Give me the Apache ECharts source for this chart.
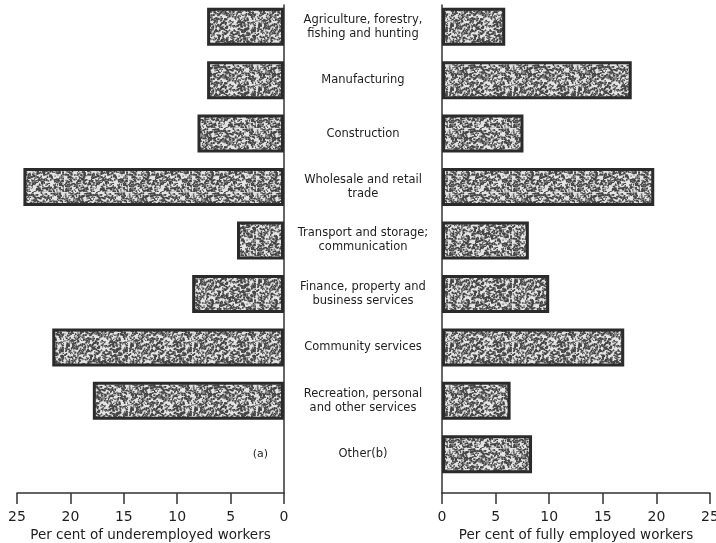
<!DOCTYPE html>
<html>
<head>
<meta charset="utf-8">
<script src="https://cdn.jsdelivr.net/npm/echarts@6/dist/echarts.min.js"></script>
<style>
  html, body { margin: 0; padding: 0; background: #fff; }
  #chart { width: 716px; height: 543px; }
</style>
</head>
<body>
<div id="chart"></div>
<script>
// industry categories, top to bottom
const categories = [
  'Agriculture, forestry,\nfishing and hunting',
  'Manufacturing',
  'Construction',
  'Wholesale and retail\ntrade',
  'Transport and storage;\ncommunication',
  'Finance, property and\nbusiness services',
  'Community services',
  'Recreation, personal\nand other services',
  'Other(b)'
];
// per cent of underemployed workers (left panel); Other has footnote (a) instead of a bar
const underemployed = [7.2, 7.2, 8.1, 24.4, 4.4, 8.6, 21.7, 17.9, 0];
// per cent of fully employed workers (right panel)
const fullyEmployed = [5.9, 17.7, 7.6, 19.8, 8.1, 10.0, 17.0, 6.4, 8.4];
const axisMax = 25;
const axisStep = 5;

// stippled fill like the printed screen
function makeStipple() {
  const size = 64;
  const c = document.createElement('canvas');
  c.width = size; c.height = size;
  const ctx = c.getContext('2d');
  ctx.fillStyle = '#e4e4e4';
  ctx.fillRect(0, 0, size, size);
  let s = 12345;
  const next = () => { s = (s * 16807) % 2147483647; return s / 2147483647; };
  ctx.fillStyle = '#444';
  for (let i = 0; i < 1500; i++) {
    const x = next() * size, y = next() * size;
    const w = 0.8 + next() * 1.4;
    ctx.fillRect(x, y, w, 0.8 + next() * 1.2);
  }
  return c;
}
const stipple = makeStipple();

const font = 'DejaVu Sans';
const textColor = '#1e1e1e';
const lineColor = '#333';

const barStyle = {
  color: { image: stipple, repeat: 'repeat' },
  borderColor: '#2b2b2b',
  borderWidth: 3
};

const leftData = underemployed.map((v, i) => {
  if (i === categories.length - 1) {
    return {
      value: v,
      itemStyle: { borderWidth: 0 },
      label: { show: true, formatter: '(a)', position: 'left', distance: 16,
        color: textColor, fontFamily: font, fontSize: 11 }
    };
  }
  return v;
});

const chart = echarts.init(document.getElementById('chart'));
chart.setOption({
  animation: false,
  grid: [
    // bar grids
    { left: 17, width: 267, top: 0, height: 481, outerBoundsMode: 'none' },
    { left: 442, width: 268, top: 0, height: 481, outerBoundsMode: 'none' },
    // axis grids
    { left: 17, width: 267, top: 5, height: 488, outerBoundsMode: 'none' },
    { left: 442, width: 268, top: 5, height: 488, outerBoundsMode: 'none' }
  ],
  xAxis: [
    { gridIndex: 0, type: 'value', min: 0, max: axisMax, inverse: true, show: false },
    { gridIndex: 1, type: 'value', min: 0, max: axisMax, show: false },
    {
      gridIndex: 2, type: 'value', min: 0, max: axisMax, interval: axisStep, inverse: true,
      splitLine: { show: false },
      axisLine: { show: true, lineStyle: { color: lineColor, width: 1.5 } },
      axisTick: { show: true, length: 11, lineStyle: { color: lineColor, width: 1.5 } },
      axisLabel: { margin: 17, color: textColor, fontFamily: font, fontSize: 14 },
      name: 'Per cent of underemployed workers',
      nameLocation: 'middle', nameGap: 34,
      nameTextStyle: { color: textColor, fontFamily: font, fontSize: 13.5 }
    },
    {
      gridIndex: 3, type: 'value', min: 0, max: axisMax, interval: axisStep,
      splitLine: { show: false },
      axisLine: { show: true, lineStyle: { color: lineColor, width: 1.5 } },
      axisTick: { show: true, length: 11, lineStyle: { color: lineColor, width: 1.5 } },
      axisLabel: { margin: 17, color: textColor, fontFamily: font, fontSize: 14 },
      name: 'Per cent of fully employed workers',
      nameLocation: 'middle', nameGap: 34,
      nameTextStyle: { color: textColor, fontFamily: font, fontSize: 13.5 }
    }
  ],
  yAxis: [
    { gridIndex: 0, type: 'category', data: categories, inverse: true, show: false },
    {
      gridIndex: 1, type: 'category', data: categories, inverse: true, position: 'left',
      axisLine: { show: false }, axisTick: { show: false },
      axisLabel: {
        margin: 79, align: 'center', color: textColor, fontFamily: font,
        fontSize: 11.5, lineHeight: 14, padding: [0, 0, 5, 0]
      }
    },
    {
      gridIndex: 2, type: 'value', position: 'right', splitLine: { show: false },
      axisLabel: { show: false }, axisTick: { show: false },
      axisLine: { show: true, onZero: false, lineStyle: { color: lineColor, width: 1.5 } }
    },
    {
      gridIndex: 3, type: 'value', position: 'left', splitLine: { show: false },
      axisLabel: { show: false }, axisTick: { show: false },
      axisLine: { show: true, onZero: false, lineStyle: { color: lineColor, width: 1.5 } }
    }
  ],
  series: [
    {
      name: 'Underemployed', type: 'bar', xAxisIndex: 0, yAxisIndex: 0,
      data: leftData, barWidth: 38, itemStyle: barStyle
    },
    {
      name: 'Fully employed', type: 'bar', xAxisIndex: 1, yAxisIndex: 1,
      data: fullyEmployed, barWidth: 38, itemStyle: barStyle
    }
  ]
});
</script>
</body>
</html>
